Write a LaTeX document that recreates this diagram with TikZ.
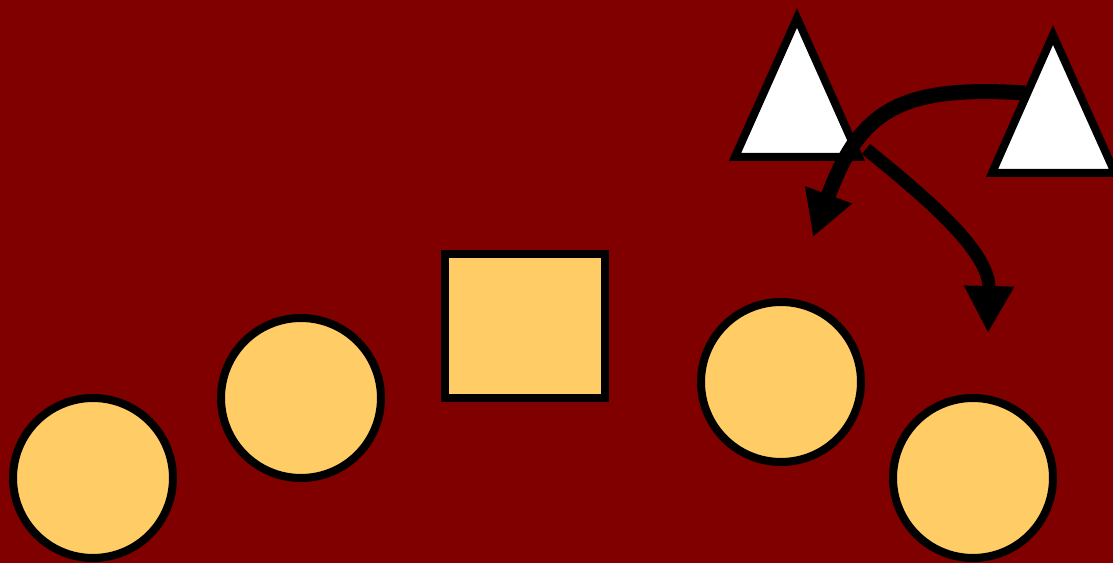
\documentclass[tikz,border=0pt]{standalone}
\usepackage{tikz}
\usetikzlibrary{arrows.meta,positioning}

\definecolor{bgMaroon}{HTML}{800000}
\definecolor{fillSand}{HTML}{FFCC66}

\begin{document}
\begin{tikzpicture}[
      x=0.02cm, y=-0.02cm,
      disc/.style={
        draw=black, line width=0.16cm, circle, fill=fillSand,
        minimum size=3.2cm, inner sep=0pt
      },
      block/.style={
        draw=black, line width=0.16cm, rectangle, fill=fillSand,
        minimum width=3.2cm, minimum height=2.88cm, inner sep=0pt
      },
      peak/.style={draw=black, line width=0.16cm, fill=white, line join=miter},
      curveArrow/.style={draw=black, line cap=butt}
    ]

      % ---------- Background ----------
      \useasboundingbox (0,0) rectangle (1113,563);
      \fill[bgMaroon] (0,0) rectangle (1113,563);

      % ---------- Circles and square ----------
      \node[disc] (discA) at (93, 478)  {};
      \node[disc] (discB) at (301, 398) {};
      \node[block] (box)  at (525, 326) {};
      \node[disc] (discC) at (781, 382) {};
      \node[disc] (discD) at (973, 478) {};

      % ---------- Triangles ----------
      \draw[peak] (735, 157) -- (797, 18) -- (859, 157) -- cycle;
      \draw[peak] (992, 173) -- (1053, 35) -- (1115, 173) -- cycle;

      \coordinate (leftPeakPt) at (866, 149);
      \coordinate (rightPeakPt) at (1025, 93);
      \coordinate (tipLeft) at (813, 237);
      \coordinate (tipRight) at (988, 333);

      % ---------- Arrows ----------
      \draw[curveArrow, line width=0.3cm, -{Triangle[length=0.9cm,width=0.94cm]}]
        (rightPeakPt) .. controls (900, 85) and (860, 110) .. (tipLeft);
      \draw[curveArrow, line width=0.26cm, -{Triangle[length=0.94cm,width=0.94cm]}]
        (leftPeakPt) .. controls (920, 193) and (990, 250) .. (tipRight);

\end{tikzpicture}
\end{document}
